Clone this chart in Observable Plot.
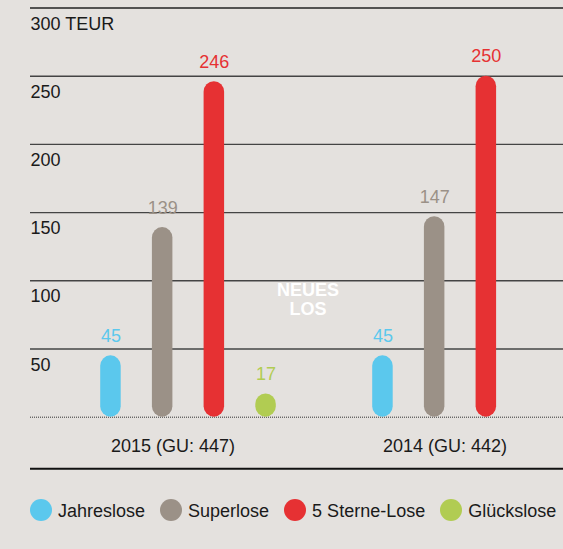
<!DOCTYPE html>
<html><head><meta charset="utf-8">
<script src="https://cdn.jsdelivr.net/npm/d3@7"></script>
<script src="https://cdn.jsdelivr.net/npm/@observablehq/plot@0.6"></script>
<style>
body{margin:0;background:#e4e1de;font-family:"Liberation Sans",Arial,sans-serif;}
#wrap{position:relative;width:563px;height:549px;overflow:hidden;}
#legend{position:absolute;left:30px;top:499px;display:flex;align-items:center;white-space:nowrap;font-size:18px;line-height:22px;color:#1a1a1a;}
.sw{width:22px;height:22px;border-radius:50%;margin-right:6px;flex:none;}
.lb{margin-right:15px;position:relative;top:1px;}
</style></head><body><div id="wrap"><div id="chart"></div><div id="legend"></div></div>
<script>
const years = ["2015", "2014"];
const yearLabels = ["2015 (GU: 447)", "2014 (GU: 442)"];
const series = ["Jahreslose", "Superlose", "5 Sterne-Lose", "Glückslose"];
const colors = ["#5bc8ed", "#9b9187", "#e63133", "#b1cc52"];
const values2015 = [45, 139, 246, 17];
const values2014 = [45, 147, 250, null];
const yTicks = [50, 100, 150, 200, 250, 300];
const yTickLabels = ["50", "100", "150", "200", "250", "300 TEUR"];
const note = "NEUES\nLOS";

const valuesByYear = [values2015, values2014];
const data = [];
years.forEach((yr, j) => {
  series.forEach((s, i) => {
    const v = valuesByYear[j][i];
    if (v != null) data.push({year: yr, series: s, value: v});
  });
});

const W = 563, H = 490;
const slot = 51.7, barW = 21, band = 272.5;
const inset = (band - barW) / 2;
const offset = i => (i - (series.length - 1) / 2) * slot;
const font = "Liberation Sans, Arial, sans-serif";

const marks = [
  Plot.ruleY(yTicks, {stroke: d => d === 300 ? "#222" : "#444", strokeWidth: d => d === 300 ? 1.6 : 1.4}),
  Plot.ruleY([0], {stroke: "#333", strokeWidth: 1, strokeDasharray: "1,1"}),
  Plot.ruleY([0], {dy: 51.6, stroke: "#111", strokeWidth: 2}),
  Plot.text(yTicks, {y: d => d, text: (d, i) => yTickLabels[i], frameAnchor: "left", textAnchor: "start", lineAnchor: "bottom", dy: 21.5, fontSize: 18, fill: "#1a1a1a"}),
  Plot.text(years, {x: d => d, text: (d, i) => yearLabels[i], frameAnchor: "bottom", lineAnchor: "bottom", dy: 34.3, dx: -15.5, fontSize: 18, fill: "#1a1a1a"})
];
series.forEach((s, i) => {
  const d = data.filter(r => r.series === s);
  marks.push(Plot.barY(d, {x: "year", y: "value", fill: colors[i], rx: barW / 2, insetLeft: inset, insetRight: inset, dx: offset(i)}));
  marks.push(Plot.text(d, {x: "year", y: "value", text: r => String(r.value), fill: colors[i], dx: offset(i), dy: -14, lineAnchor: "bottom", fontSize: 18}));
});
const gi = series.indexOf("Glückslose");
marks.push(Plot.text([note], {x: () => years[0], text: d => d, frameAnchor: "bottom", lineAnchor: "bottom", dx: offset(gi) + 42, dy: -102.7, fill: "white", fontWeight: "bold", fontSize: 18, lineHeight: 19 / 18}));

const chart = Plot.plot({
  width: W, height: H,
  marginTop: 7.5, marginBottom: 73.3, marginLeft: 30, marginRight: 0,
  style: {background: "transparent", fontFamily: font, fontSize: "18px", overflow: "visible"},
  x: {type: "band", domain: years, range: [187.5 - band / 2, 187.5 + band * 1.5], padding: 0, axis: null},
  y: {domain: [0, 300], axis: null},
  marks
});
document.getElementById("chart").appendChild(chart);

const lg = document.getElementById("legend");
series.forEach((s, i) => {
  const sw = document.createElement("span"); sw.className = "sw"; sw.style.background = colors[i];
  const lb = document.createElement("span"); lb.className = "lb"; lb.textContent = s;
  lg.appendChild(sw); lg.appendChild(lb);
});
</script></body></html>
